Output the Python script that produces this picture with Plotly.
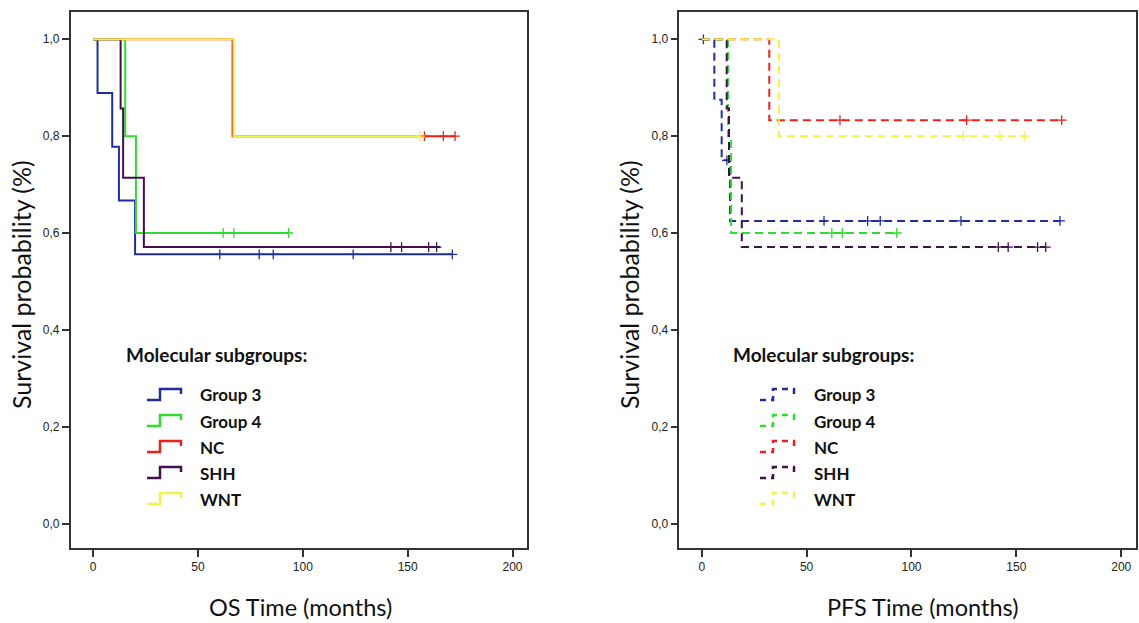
import plotly.graph_objects as go

# ---------------- data ----------------
groups = ["Group 3", "Group 4", "NC", "SHH", "WNT"]
colors = ["#1f2e9c", "#2fdc2f", "#ee1f1f", "#43104e", "#f4f24a"]

# Overall survival (months, survival probability), step points + censor times
os_g3_t = [0, 2.1, 9.1, 12.3, 20.0, 171.3]
os_g3_s = [1.0, 0.889, 0.778, 0.667, 0.556, 0.556]
os_g3_c = [60.4, 79.2, 85.9, 124.0, 171.3]

os_g4_t = [0, 15.3, 20.4, 93.2]
os_g4_s = [1.0, 0.8, 0.6, 0.6]
os_g4_c = [62.0, 67.1, 93.2]

os_nc_t = [0, 66.5, 172.6]
os_nc_s = [1.0, 0.8, 0.8]
os_nc_c = [158.0, 167.0, 172.6]

os_shh_t = [0, 13.1, 14.3, 24.2, 165.4]
os_shh_s = [1.0, 0.857, 0.714, 0.571, 0.571]
os_shh_c = [142.0, 147.1, 160.0, 163.8]

os_wnt_t = [0, 67.0, 155.9]
os_wnt_s = [1.0, 0.8, 0.8]
os_wnt_c = [155.9]

# Progression-free survival
pfs_g3_t = [0, 6.0, 9.5, 13.5, 171.0]
pfs_g3_s = [1.0, 0.875, 0.75, 0.625, 0.625]
pfs_g3_c = [0.8, 12.0, 58.3, 79.1, 85.1, 123.6, 170.8]

pfs_g4_t = [0, 12.5, 14.0, 93.0]
pfs_g4_s = [1.0, 0.8, 0.6, 0.6]
pfs_g4_c = [62.0, 67.0, 93.0]

pfs_nc_t = [0, 32.2, 171.6]
pfs_nc_s = [1.0, 0.833, 0.833]
pfs_nc_c = [65.9, 126.3, 171.6]

pfs_shh_t = [0, 11.9, 13.0, 19.1, 164.0]
pfs_shh_s = [1.0, 0.857, 0.714, 0.571, 0.571]
pfs_shh_c = [141.4, 146.1, 160.1, 164.0]

pfs_wnt_t = [0, 36.8, 154.1]
pfs_wnt_s = [1.0, 0.8, 0.8]
pfs_wnt_c = [124.7, 142.2, 154.1]

y_ticks = [0.0, 0.2, 0.4, 0.6, 0.8, 1.0]
x_ticks = [0, 50, 100, 150, 200]

os_data = [(os_g3_t, os_g3_s, os_g3_c), (os_g4_t, os_g4_s, os_g4_c),
           (os_nc_t, os_nc_s, os_nc_c), (os_shh_t, os_shh_s, os_shh_c),
           (os_wnt_t, os_wnt_s, os_wnt_c)]
pfs_data = [(pfs_g3_t, pfs_g3_s, pfs_g3_c), (pfs_g4_t, pfs_g4_s, pfs_g4_c),
            (pfs_nc_t, pfs_nc_s, pfs_nc_c), (pfs_shh_t, pfs_shh_s, pfs_shh_c),
            (pfs_wnt_t, pfs_wnt_s, pfs_wnt_c)]

# ---------------- figure ----------------
W, H = 1139, 623
fig = go.Figure()


def step_val(ts, ss, t):
    v = ss[0]
    for ti, si in zip(ts, ss):
        if ti <= t:
            v = si
    return v


def add_curves(data, xa, ya, dash):
    for name, col, (ts, ss, cs) in zip(groups, colors, data):
        fig.add_trace(go.Scatter(
            x=ts, y=ss, mode="lines", line_shape="hv", name=name,
            line=dict(color=col, width=2, dash=dash),
            xaxis=xa, yaxis=ya, showlegend=False, hoverinfo="skip"))
        fig.add_trace(go.Scatter(
            x=cs, y=[step_val(ts, ss, c) for c in cs], mode="markers",
            marker=dict(symbol="cross-thin", size=7,
                        line=dict(color=col, width=1.3)),
            xaxis=xa, yaxis=ya, showlegend=False, hoverinfo="skip"))


add_curves(os_data, "x", "y", "solid")
add_curves(pfs_data, "x2", "y2", "8px,5px")


def px(x):
    return x / W


def py(y):
    return 1 - y / H


axis_common = dict(showline=True, mirror=True, linecolor="#333333", linewidth=1.5,
                   ticks="outside", ticklen=7, tickwidth=1.5, tickcolor="#333333",
                   showgrid=False, zeroline=False,
                   tickfont=dict(family="Liberation Sans", size=12, color="#222222"))

x_range = [-10.7, 206.9]
y_range = [-0.051, 1.0557]

fig.update_layout(
    width=W, height=H, margin=dict(l=0, r=0, t=0, b=0),
    paper_bgcolor="white", plot_bgcolor="white", separators=",.",
    xaxis=dict(domain=[px(70.7), px(527)], range=x_range, tickvals=x_ticks,
               anchor="y", **axis_common),
    yaxis=dict(domain=[py(548.3), py(12.3)], range=y_range, tickvals=y_ticks,
               tickformat=".1f", anchor="x", **axis_common),
    xaxis2=dict(domain=[px(679.3), px(1135.7)], range=x_range, tickvals=x_ticks,
                anchor="y2", **axis_common),
    yaxis2=dict(domain=[py(548.3), py(12.3)], range=y_range, tickvals=y_ticks,
                tickformat=".1f", anchor="x2", **axis_common),
)

xt_font = dict(family="Lato", size=23.5, color="#111111")
yt_font = dict(family="Lato", size=25, color="#111111")
ann = []
ann.append(dict(text="OS Time (months)", x=px(300), y=py(607), xref="paper", yref="paper",
                showarrow=False, font=xt_font, xanchor="center", yanchor="middle"))
ann.append(dict(text="PFS Time (months)", x=px(922), y=py(607), xref="paper", yref="paper",
                showarrow=False, font=xt_font, xanchor="center", yanchor="middle"))
for cx in (21, 629):
    ann.append(dict(text="Survival probability (%)", x=px(cx), y=py(285), xref="paper",
                    yref="paper", showarrow=False, font=yt_font, textangle=-90,
                    xanchor="center", yanchor="middle"))

leg_font = dict(family="Lato", size=17, color="#111111")
shapes = []
legend_specs = [(124, 147, 198, "solid"), (731, 760, 812, "6px,5px")]
item_y = [395, 421, 447, 473, 499]
for tx, ix, lx, dash in legend_specs:
    ann.append(dict(text="<b>Molecular subgroups:</b>", x=px(tx), y=py(354), xref="paper",
                    yref="paper", showarrow=False,
                    font=dict(family="Lato", size=19, color="#111111"),
                    xanchor="left", yanchor="middle"))
    for name, col, yy in zip(groups, colors, item_y):
        x0, x1, x2 = ix, ix + 13, ix + 34
        yb, yt = yy + 5, yy - 6
        path = (f"M {px(x0)},{py(yb)} L {px(x1)},{py(yb)} L {px(x1)},{py(yt)} "
                f"L {px(x2)},{py(yt)} L {px(x2)},{py(yt + 5)}")
        shapes.append(dict(type="path", path=path, xref="paper", yref="paper",
                           line=dict(color=col, width=2.5, dash=dash)))
        ann.append(dict(text=f"<b>{name}</b>", x=px(lx), y=py(yy), xref="paper", yref="paper",
                        showarrow=False, font=leg_font, xanchor="left", yanchor="middle"))

fig.update_layout(annotations=ann, shapes=shapes)
fig.write_html("out.html")
